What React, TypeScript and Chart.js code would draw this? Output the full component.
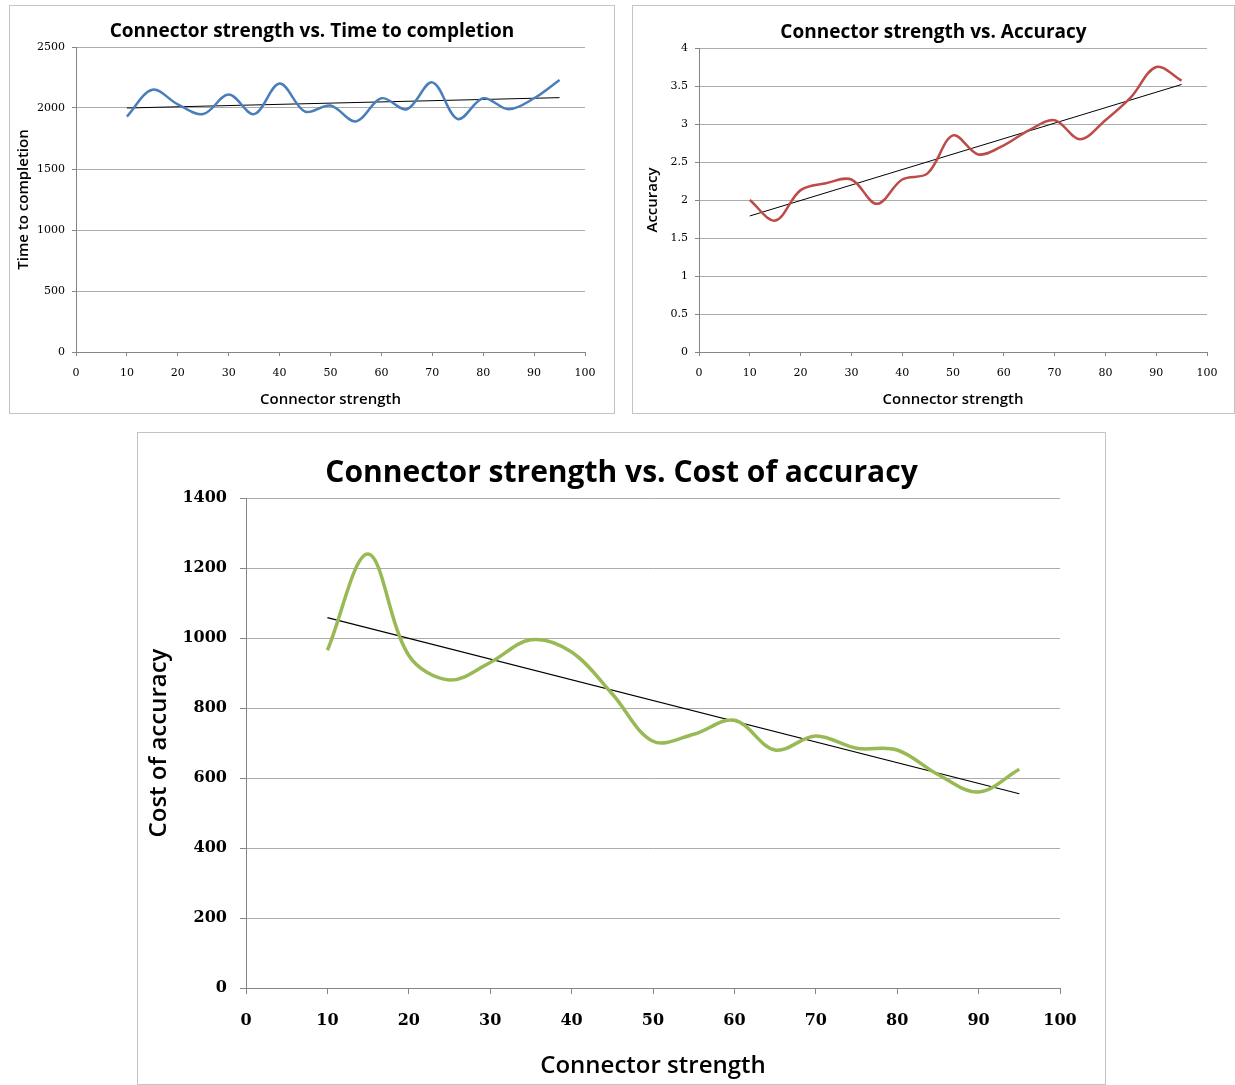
import React, { useEffect, useRef } from "react";
import { Chart, registerables } from "chart.js";

Chart.register(...registerables);

// ---- Data ----
const connectorStrength = [10, 15, 20, 25, 30, 35, 40, 45, 50, 55, 60, 65, 70, 75, 80, 85, 90, 95];
const timeToCompletion = [1930, 2150, 2030, 1950, 2110, 1950, 2200, 1970, 2020, 1890, 2080, 1990, 2210, 1910, 2080, 1990, 2080, 2230];
const accuracy = [2.0, 1.73, 2.13, 2.22, 2.27, 1.95, 2.27, 2.35, 2.85, 2.6, 2.72, 2.92, 3.05, 2.8, 3.05, 3.35, 3.75, 3.57];
const costOfAccuracy = [965, 1240, 950, 880, 930, 995, 960, 840, 705, 725, 765, 680, 720, 685, 680, 610, 560, 625];

const trendX = [10, 95];
const timeTrend = [2000, 2085];
const accuracyTrend = [1.79, 3.52];
const costTrend = [1058, 555];

const xTicks = [0, 10, 20, 30, 40, 50, 60, 70, 80, 90, 100];

type Cfg = {
  left: number; top: number; width: number; height: number;
  title: string; yTitle: string; xTitle: string;
  values: number[]; trend: number[]; color: string; lineWidth: number;
  yMax: number; yStep: number;
  titleSize: number; titlePadTop: number; titlePadBottom: number;
  axisTitleSize: number; yTitlePad: number; xTitlePad: number;
  tickSize: number; tickBold: boolean; tickLen: number; yTickPad: number; xTickPad: number;
  plotLeft: number; plotBottom: number; padRight: number; trendWidth: number;
};

function SmoothChart({ cfg }: { cfg: Cfg }) {
  const ref = useRef<HTMLCanvasElement | null>(null);
  useEffect(() => {
    if (!ref.current) return;
    const pts = connectorStrength.map((x, i) => ({ x, y: cfg.values[i] }));
    const tr = trendX.map((x, i) => ({ x, y: cfg.trend[i] }));
    const tickFont = { family: "'DejaVu Serif', serif", size: cfg.tickSize, weight: cfg.tickBold ? ("bold" as const) : ("normal" as const) };
    const chart = new Chart(ref.current, {
      type: "scatter",
      data: {
        datasets: [
          {
            data: pts,
            showLine: true,
            borderColor: cfg.color,
            borderWidth: cfg.lineWidth,
            pointRadius: 0,
            tension: 0.35,
            fill: false,
          },
          {
            data: tr,
            showLine: true,
            borderColor: "#000000",
            borderWidth: cfg.trendWidth,
            pointRadius: 0,
            tension: 0,
            fill: false,
          },
        ],
      },
      options: {
        animation: false,
        responsive: false,
        devicePixelRatio: 1,
        layout: { padding: 0 },
        plugins: {
          legend: { display: false },
          tooltip: { enabled: false },
          title: {
            display: true,
            text: cfg.title,
            color: "#000000",
            font: { family: "'Open Sans', sans-serif", size: cfg.titleSize, weight: "bold" },
            padding: { top: cfg.titlePadTop, bottom: cfg.titlePadBottom },
          },
        },
        scales: {
          x: {
            type: "linear",
            min: 0,
            max: 100,
            afterBuildTicks: (scale: any) => {
              scale.ticks = xTicks.map((v) => ({ value: v }));
            },
            afterFit: (scale: any) => {
              scale.height = cfg.plotBottom;
            },
            grid: {
              drawOnChartArea: false,
              drawTicks: true,
              tickLength: cfg.tickLen,
              color: "#868686",
              tickColor: "#868686",
            },
            border: { display: true, color: "#868686" },
            ticks: {
              color: "#000000",
              font: tickFont,
              padding: cfg.xTickPad,
              maxRotation: 0,
              autoSkip: false,
              callback: (v: any) => String(v),
            },
            title: {
              display: true,
              text: cfg.xTitle,
              color: "#000000",
              font: { family: "'Open Sans', sans-serif", size: cfg.axisTitleSize, weight: "600" },
              padding: { top: 0, bottom: cfg.xTitlePad },
            },
          },
          y: {
            type: "linear",
            position: "left",
            min: 0,
            max: cfg.yMax,
            afterFit: (scale: any) => {
              scale.width = cfg.plotLeft;
            },
            grid: {
              drawOnChartArea: true,
              drawTicks: true,
              tickLength: cfg.tickLen,
              color: "#ababab",
              tickColor: "#868686",
            },
            border: { display: true, color: "#868686" },
            ticks: {
              stepSize: cfg.yStep,
              color: "#000000",
              font: tickFont,
              padding: cfg.yTickPad,
              callback: (v: any) => String(v),
            },
            title: {
              display: true,
              text: cfg.yTitle,
              color: "#000000",
              font: { family: "'Open Sans', sans-serif", size: cfg.axisTitleSize, weight: "600" },
              padding: { top: cfg.yTitlePad, bottom: 0 },
            },
          },
          // empty spacer on the right so the title stays centred on the whole box
          spacer: {
            type: "linear",
            position: "right",
            display: true,
            min: 0,
            max: 1,
            afterFit: (scale: any) => {
              scale.width = cfg.padRight;
            },
            grid: { display: false, drawTicks: false },
            border: { display: false },
            ticks: { display: false },
            title: { display: false },
          },
        },
      },
    });
    return () => chart.destroy();
  }, [cfg]);

  return (
    <div
      style={{
        position: "absolute",
        left: cfg.left,
        top: cfg.top,
        width: cfg.width,
        height: cfg.height,
        border: "1px solid #c4c4c4",
        background: "#ffffff",
      }}
    >
      <canvas ref={ref} width={cfg.width} height={cfg.height} style={{ display: "block" }} />
    </div>
  );
}

const timeCfg: Cfg = {
  left: 9, top: 5, width: 604, height: 407,
  title: "Connector strength vs. Time to completion",
  yTitle: "Time to completion", xTitle: "Connector strength",
  values: timeToCompletion, trend: timeTrend, color: "#4a7ebb", lineWidth: 2.5,
  yMax: 2500, yStep: 500,
  titleSize: 19, titlePadTop: 14, titlePadBottom: 4.2,
  axisTitleSize: 15, yTitlePad: 4.5, xTitlePad: 4,
  tickSize: 11, tickBold: false, tickLen: 4, yTickPad: 7, xTickPad: 11,
  plotLeft: 66, plotBottom: 61, padRight: 29, trendWidth: 1,
};

const accCfg: Cfg = {
  left: 632, top: 5, width: 601, height: 407,
  title: "Connector strength vs. Accuracy",
  yTitle: "Accuracy", xTitle: "Connector strength",
  values: accuracy, trend: accuracyTrend, color: "#be4b48", lineWidth: 2.5,
  yMax: 4, yStep: 0.5,
  titleSize: 19, titlePadTop: 15, titlePadBottom: 4.2,
  axisTitleSize: 15, yTitlePad: 11, xTitlePad: 4,
  tickSize: 11, tickBold: false, tickLen: 4, yTickPad: 7, xTickPad: 11,
  plotLeft: 66, plotBottom: 61, padRight: 27, trendWidth: 1,
};

const costCfg: Cfg = {
  left: 137, top: 432, width: 967, height: 651,
  title: "Connector strength vs. Cost of accuracy",
  yTitle: "Cost of accuracy", xTitle: "Connector strength",
  values: costOfAccuracy, trend: costTrend, color: "#98b954", lineWidth: 3.5,
  yMax: 1400, yStep: 200,
  titleSize: 30, titlePadTop: 22, titlePadBottom: 7,
  axisTitleSize: 24, yTitlePad: 7, xTitlePad: 3.6,
  tickSize: 16, tickBold: true, tickLen: 6, yTickPad: 13, xTickPad: 17,
  plotLeft: 108, plotBottom: 96, padRight: 45, trendWidth: 1.2,
};

export default function App() {
  return (
    <div style={{ position: "absolute", left: 0, top: 0, width: 1235, height: 1085, overflow: "hidden", background: "#ffffff" }}>
      <SmoothChart cfg={timeCfg} />
      <SmoothChart cfg={accCfg} />
      <SmoothChart cfg={costCfg} />
    </div>
  );
}
